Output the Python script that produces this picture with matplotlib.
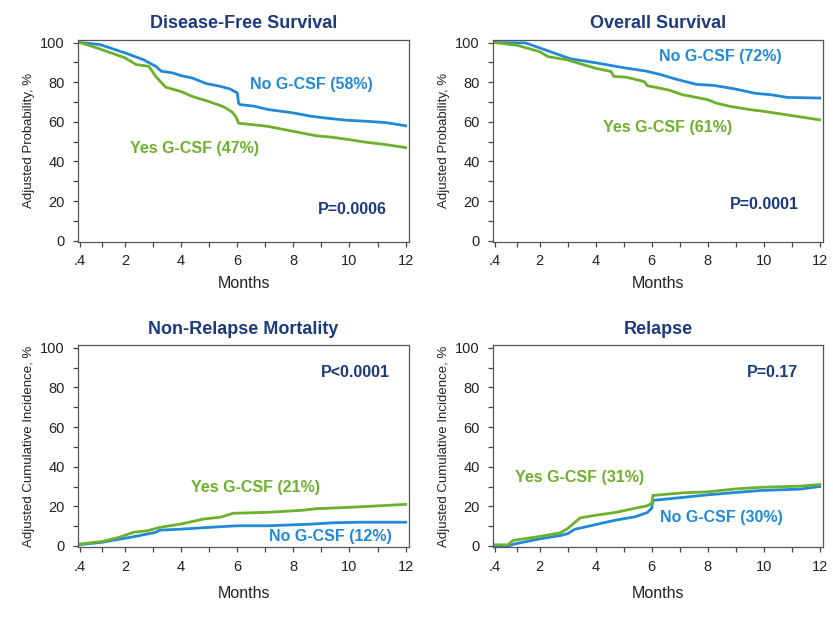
import matplotlib
matplotlib.use("Agg")
import matplotlib.pyplot as plt
from matplotlib.ticker import FixedLocator

plt.rcParams["font.family"] = ["Liberation Sans", "DejaVu Sans"]

# ---------------------------------------------------------
# data (months, adjusted %)
# ---------------------------------------------------------

dfs_no_x = [0.4, 1.1, 2.0, 2.65, 3.1, 3.3, 3.7, 4.0, 4.4, 4.9, 5.4, 5.74, 6.0, 6.05, 6.1, 6.6, 7.1, 8.0, 8.6, 9.1, 9.9, 10.6, 11.3, 12.0]
dfs_no_y = [100, 99, 94.8, 91.4, 88, 85.5, 84.7, 83.3, 82.1, 79.3, 77.9, 76.6, 74.6, 69.5, 68.7, 67.9, 66.2, 64.5, 62.9, 62.0, 60.8, 60.3, 59.6, 58]
dfs_yes_x = [0.4, 1.0, 2.0, 2.4, 2.85, 3.1, 3.45, 4.0, 4.4, 5.0, 5.5, 5.8, 5.95, 6.05, 6.6, 7.1, 8.0, 8.8, 9.4, 10.0, 10.6, 11.3, 12.0]
dfs_yes_y = [100, 97.3, 92.3, 88.9, 88, 82.9, 77.5, 75.3, 72.8, 70.2, 67.7, 65.2, 62.7, 59.3, 58.5, 57.7, 55.2, 53.0, 52.2, 51.0, 49.7, 48.5, 47]

os_no_x = [0.4, 1.5, 2.0, 2.5, 3.1, 4.0, 5.0, 5.8, 6.3, 6.9, 7.6, 8.2, 8.9, 9.7, 10.3, 10.85, 12.0]
os_no_y = [100, 99.8, 97.3, 94.8, 91.8, 89.8, 87.3, 85.6, 83.9, 81.4, 78.9, 78.4, 76.8, 74.4, 73.6, 72.3, 72]
os_yes_x = [0.4, 1.2, 2.0, 2.3, 3.0, 4.0, 4.55, 4.65, 5.1, 5.74, 5.85, 6.6, 7.1, 8.0, 8.3, 8.8, 9.5, 10.0, 10.8, 12.0]
os_yes_y = [100, 98.6, 95.4, 92.9, 91.2, 87.0, 85.4, 82.9, 82.5, 80.3, 78.2, 76.1, 73.7, 71.2, 69.5, 67.8, 66.2, 65.3, 63.6, 61]

nrm_no_x = [0.4, 1.2, 1.5, 2.0, 2.5, 3.1, 3.25, 4.0, 5.0, 6.0, 7.1, 8.6, 9.4, 10.4, 12.0]
nrm_no_y = [0.7, 1.9, 2.7, 3.9, 5.2, 6.9, 8.0, 8.5, 9.4, 10.2, 10.2, 11.0, 11.7, 12.0, 12]
nrm_yes_x = [0.4, 1.2, 1.8, 2.3, 2.8, 3.25, 4.0, 4.8, 5.4, 5.85, 7.1, 8.3, 8.8, 10.0, 11.2, 12.0]
nrm_yes_y = [1.0, 2.3, 4.4, 6.9, 7.7, 9.4, 11.1, 13.6, 14.5, 16.5, 17.0, 18.0, 18.8, 19.5, 20.4, 21]

rel_no_x = [0.4, 0.87, 1.1, 2.0, 2.75, 3.0, 3.25, 4.0, 4.7, 5.4, 5.85, 6.0, 6.05, 7.1, 8.0, 9.0, 9.9, 11.3, 12.0]
rel_no_y = [0, 0, 1.0, 3.6, 5.3, 6.2, 8.4, 10.8, 13.0, 14.7, 16.9, 19.0, 23.0, 24.5, 25.8, 27.0, 28.0, 28.7, 30]
rel_yes_x = [0.4, 0.87, 1.05, 2.0, 2.75, 3.0, 3.45, 4.0, 4.7, 5.4, 5.85, 6.0, 6.05, 7.1, 8.0, 9.0, 9.9, 11.3, 12.0]
rel_yes_y = [0.6, 0.6, 2.8, 4.8, 6.7, 8.8, 14.2, 15.5, 16.9, 19.0, 20.3, 21.5, 25.5, 26.8, 27.3, 28.8, 29.6, 30.2, 31]

x_ticks = [0.4, 2, 4, 6, 8, 10, 12]
x_tick_labels = [".4", "2", "4", "6", "8", "10", "12"]
x_minor = [1.2, 3, 5, 7, 9, 11]

BLUE = "#2289d4"
GREEN = "#6cb02c"
NAVY = "#1c3b7c"
INK = "#222222"

panels = [
    dict(title="Disease-Free Survival", ylabel="Adjusted Probability, %",
         no=(dfs_no_x, dfs_no_y), yes=(dfs_yes_x, dfs_yes_y),
         no_text=("No G-CSF (58%)", 6.45, 79), yes_text=("Yes G-CSF (47%)", 2.18, 46.5),
         p_text=("P=0.0006", 8.87, 15.7), rect=[0.094, 0.615, 0.397, 0.322], xpad=5.5),
    dict(title="Overall Survival", ylabel="Adjusted Probability, %",
         no=(os_no_x, os_no_y), yes=(os_yes_x, os_yes_y),
         no_text=("No G-CSF (72%)", 6.27, 93), yes_text=("Yes G-CSF (61%)", 4.28, 57.2),
         p_text=("P=0.0001", 8.8, 18.2), rect=[0.592, 0.615, 0.396, 0.322], xpad=5.5),
    dict(title="Non-Relapse Mortality", ylabel="Adjusted Cumulative Incidence, %",
         no=(nrm_no_x, nrm_no_y), yes=(nrm_yes_x, nrm_yes_y),
         no_text=("No G-CSF (12%)", 7.14, 4.7), yes_text=("Yes G-CSF (21%)", 4.37, 29.3),
         p_text=("P<0.0001", 8.97, 87.6), rect=[0.094, 0.129, 0.397, 0.322], xpad=9),
    dict(title="Relapse", ylabel="Adjusted Cumulative Incidence, %",
         no=(rel_no_x, rel_no_y), yes=(rel_yes_x, rel_yes_y),
         no_text=("No G-CSF (30%)", 6.3, 14.5), yes_text=("Yes G-CSF (31%)", 1.11, 34.7),
         p_text=("P=0.17", 9.41, 87.6), rect=[0.592, 0.129, 0.396, 0.322], xpad=9),
]

fig = plt.figure(figsize=(8.33, 6.28), dpi=100)

for p in panels:
    ax = fig.add_axes(p["rect"])
    ax.plot(p["no"][0], p["no"][1], color=BLUE, lw=2.0, solid_joinstyle="miter")
    ax.plot(p["yes"][0], p["yes"][1], color=GREEN, lw=2.0, solid_joinstyle="miter")

    ax.set_xlim(0.34, 12.12)
    ax.set_ylim(-0.5, 101.5)
    ax.set_xticks(x_ticks)
    ax.set_xticklabels(x_tick_labels)
    ax.xaxis.set_minor_locator(FixedLocator(x_minor))
    ax.set_yticks([0, 20, 40, 60, 80, 100])
    ax.yaxis.set_minor_locator(FixedLocator([10, 30, 50, 70, 90]))
    ax.tick_params(which="both", direction="out", length=3.6, width=0.9, color="#444444",
                   labelsize=10.5, labelcolor=INK)
    ax.tick_params(axis="x", which="major", pad=5.5)
    ax.tick_params(axis="y", which="major", pad=6)

    for s in ax.spines.values():
        s.set_color("#555555")
        s.set_linewidth(0.9)

    ax.set_title(p["title"], fontsize=13, fontweight="bold", color=NAVY, pad=8)
    ax.set_xlabel("Months", fontsize=11.5, color=INK, labelpad=p["xpad"])
    ax.set_ylabel(p["ylabel"], fontsize=9.5, color=INK, labelpad=4)

    t, x, y = p["no_text"]
    ax.text(x, y, t, color=BLUE, fontsize=11.5, fontweight="bold", va="center")
    t, x, y = p["yes_text"]
    ax.text(x, y, t, color=GREEN, fontsize=11.5, fontweight="bold", va="center")
    t, x, y = p["p_text"]
    ax.text(x, y, t, color=NAVY, fontsize=11.5, fontweight="bold", va="center")

fig.savefig("out.png", dpi=100, facecolor="white")
